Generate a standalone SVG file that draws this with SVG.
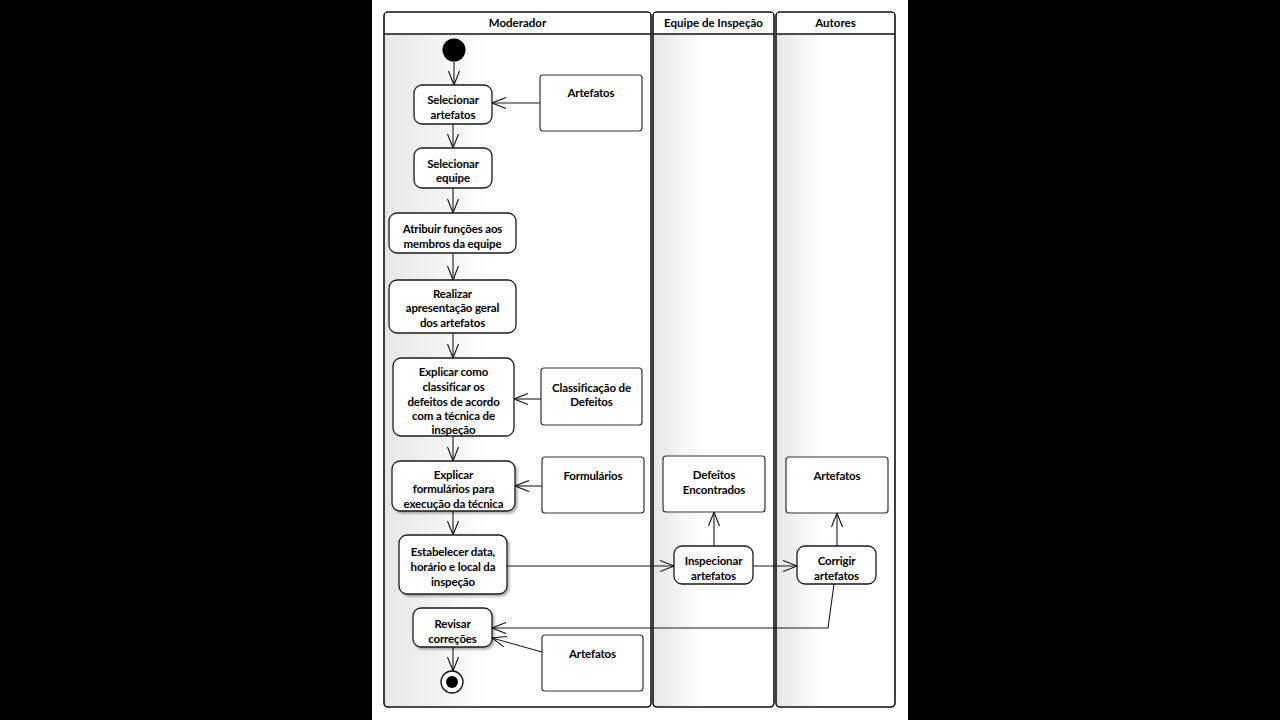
<svg xmlns="http://www.w3.org/2000/svg" width="1280" height="720" viewBox="0 0 1280 720">
<defs>
  <linearGradient id="laneGrad" x1="0" y1="0" x2="1" y2="0">
    <stop offset="0" stop-color="#e6e6e6"/>
    <stop offset="0.4" stop-color="#ffffff"/>
    <stop offset="1" stop-color="#ffffff"/>
  </linearGradient>
  <marker id="open" markerUnits="userSpaceOnUse" markerWidth="16" markerHeight="12" refX="14.5" refY="6" orient="auto">
    <path d="M0.5,0.5 L14.5,6 L0.5,11.5" fill="none" stroke="#111" stroke-width="1.1"/>
  </marker>
  <filter id="shadow" x="-10%" y="-10%" width="130%" height="130%">
    <feDropShadow dx="2" dy="2" stdDeviation="1.2" flood-color="#000" flood-opacity="0.3"/>
  </filter>
</defs>
<style>
  .lane { fill: url(#laneGrad); stroke: #111; stroke-width: 1.6; }
  .hdr { fill: none; stroke: #111; stroke-width: 1.4; }
  .act { fill: #ffffff; stroke: #1a1a1a; stroke-width: 1.3; }
  .obj { fill: #ffffff; stroke: #333; stroke-width: 1.2; }
  .t { font-family: Lato, "Liberation Sans", sans-serif; font-weight: bold; font-size: 11.5px; fill: #000; text-anchor: middle; letter-spacing: -0.15px; }
  .h { font-family: Lato, "Liberation Sans", sans-serif; font-weight: bold; font-size: 11.5px; fill: #000; text-anchor: middle; }
  .c { fill: none; stroke: #1a1a1a; stroke-width: 1.1; }
</style>
<rect x="0" y="0" width="1280" height="720" fill="#000"/>
<rect x="372" y="0" width="536" height="720" fill="#fff"/>

<g id="lanes">
  <g id="lane-moderador">
    <rect class="lane" x="384" y="12" width="267" height="695" rx="4"/>
    <rect x="385" y="13" width="265" height="21" fill="#fff"/>
    <line class="hdr" x1="384" y1="34" x2="651" y2="34"/>
    <text class="h" x="517.5" y="27">Moderador</text>
  </g>
  <g id="lane-equipe">
    <rect class="lane" x="653" y="12" width="121" height="695" rx="4"/>
    <rect x="654" y="13" width="119" height="21" fill="#fff"/>
    <line class="hdr" x1="653" y1="34" x2="774" y2="34"/>
    <text class="h" x="713.5" y="27">Equipe de Inspeção</text>
  </g>
  <g id="lane-autores">
    <rect class="lane" x="776" y="12" width="119" height="695" rx="4"/>
    <rect x="777" y="13" width="117" height="21" fill="#fff"/>
    <line class="hdr" x1="776" y1="34" x2="895" y2="34"/>
    <text class="h" x="835.5" y="27">Autores</text>
  </g>
</g>

<g id="connectors">
  <line class="c" x1="454" y1="62" x2="454" y2="85" marker-end="url(#open)"/>
  <line class="c" x1="540" y1="103" x2="492" y2="103" marker-end="url(#open)"/>
  <line class="c" x1="453" y1="124" x2="453" y2="148" marker-end="url(#open)"/>
  <line class="c" x1="453" y1="188" x2="453" y2="213" marker-end="url(#open)"/>
  <line class="c" x1="453" y1="253" x2="453" y2="280" marker-end="url(#open)"/>
  <line class="c" x1="453" y1="333" x2="453" y2="358" marker-end="url(#open)"/>
  <line class="c" x1="541" y1="399" x2="514" y2="399" marker-end="url(#open)"/>
  <line class="c" x1="453" y1="436" x2="453" y2="461" marker-end="url(#open)"/>
  <line class="c" x1="542" y1="486" x2="515" y2="486" marker-end="url(#open)"/>
  <line class="c" x1="453" y1="511" x2="453" y2="535" marker-end="url(#open)"/>
  <line class="c" x1="507" y1="566" x2="674" y2="566" marker-end="url(#open)"/>
  <line class="c" x1="714" y1="546" x2="714" y2="512" marker-end="url(#open)"/>
  <line class="c" x1="753" y1="566" x2="797" y2="566" marker-end="url(#open)"/>
  <line class="c" x1="837" y1="546" x2="837" y2="513" marker-end="url(#open)"/>
  <polyline class="c" points="834,584 828,628 492,628" marker-end="url(#open)"/>
  <line class="c" x1="542" y1="652" x2="492" y2="638" marker-end="url(#open)"/>
  <line class="c" x1="453" y1="647" x2="453" y2="671" marker-end="url(#open)"/>
</g>

<g id="start">
  <circle cx="454" cy="50" r="11.5" fill="#000"/>
</g>

<g id="selecionar-artefatos">
  <rect class="act" x="414" y="85" width="78" height="39" rx="8"/>
  <text class="t" x="453" y="104">Selecionar</text>
  <text class="t" x="453" y="119">artefatos</text>
</g>

<g id="obj-artefatos-1">
  <rect class="obj" x="540" y="75" width="102" height="56" rx="3"/>
  <text class="t" x="591" y="97">Artefatos</text>
</g>

<g id="selecionar-equipe">
  <rect class="act" x="414" y="148" width="78" height="40" rx="8"/>
  <text class="t" x="453" y="168">Selecionar</text>
  <text class="t" x="453" y="182">equipe</text>
</g>

<g id="atribuir-funcoes">
  <rect class="act" x="389" y="213" width="127" height="40" rx="8"/>
  <text class="t" x="452.5" y="233">Atribuir funções aos</text>
  <text class="t" x="452.5" y="248">membros da equipe</text>
</g>

<g id="realizar-apresentacao">
  <rect class="act" x="389" y="280" width="127" height="53" rx="8"/>
  <text class="t" x="452.5" y="298">Realizar</text>
  <text class="t" x="452.5" y="312">apresentação geral</text>
  <text class="t" x="452.5" y="327">dos artefatos</text>
</g>

<g id="explicar-classificar">
  <rect class="act" x="393" y="358" width="121" height="78" rx="8"/>
  <text class="t" x="453.5" y="376">Explicar como</text>
  <text class="t" x="453.5" y="391">classificar os</text>
  <text class="t" x="453.5" y="406">defeitos de acordo</text>
  <text class="t" x="453.5" y="420">com a técnica de</text>
  <text class="t" x="453.5" y="434">inspeção</text>
</g>

<g id="obj-classificacao">
  <rect class="obj" x="541" y="368" width="101" height="57" rx="3"/>
  <text class="t" x="591.5" y="392">Classificação de</text>
  <text class="t" x="591.5" y="406">Defeitos</text>
</g>

<g id="explicar-formularios">
  <rect class="act" x="392" y="461" width="123" height="50" rx="8" filter="url(#shadow)"/>
  <text class="t" x="453.5" y="479">Explicar</text>
  <text class="t" x="453.5" y="493">formulários para</text>
  <text class="t" x="453.5" y="508">execução da técnica</text>
</g>

<g id="obj-formularios">
  <rect class="obj" x="542" y="457" width="102" height="56" rx="3"/>
  <text class="t" x="593" y="480">Formulários</text>
</g>

<g id="estabelecer-data">
  <rect class="act" x="399" y="535" width="108" height="59" rx="8" filter="url(#shadow)"/>
  <text class="t" x="453" y="556">Estabelecer data,</text>
  <text class="t" x="453" y="571">horário e local da</text>
  <text class="t" x="453" y="586">inspeção</text>
</g>

<g id="inspecionar-artefatos">
  <rect class="act" x="674" y="546" width="79" height="38" rx="8"/>
  <text class="t" x="713.5" y="565">Inspecionar</text>
  <text class="t" x="713.5" y="580">artefatos</text>
</g>

<g id="obj-defeitos">
  <rect class="obj" x="663" y="456" width="102" height="56" rx="3"/>
  <text class="t" x="714" y="479">Defeitos</text>
  <text class="t" x="714" y="494">Encontrados</text>
</g>

<g id="corrigir-artefatos">
  <rect class="act" x="797" y="546" width="79" height="38" rx="8"/>
  <text class="t" x="836.5" y="565">Corrigir</text>
  <text class="t" x="836.5" y="580">artefatos</text>
</g>

<g id="obj-artefatos-2">
  <rect class="obj" x="786" y="457" width="102" height="56" rx="3"/>
  <text class="t" x="837" y="480">Artefatos</text>
</g>

<g id="revisar-correcoes">
  <rect class="act" x="413" y="608" width="79" height="39" rx="8" filter="url(#shadow)"/>
  <text class="t" x="452.5" y="628">Revisar</text>
  <text class="t" x="452.5" y="643">correções</text>
</g>

<g id="obj-artefatos-3">
  <rect class="obj" x="542" y="635" width="101" height="56" rx="3"/>
  <text class="t" x="592.5" y="658">Artefatos</text>
</g>

<g id="final">
  <circle cx="452" cy="682" r="11" fill="#fff" stroke="#111" stroke-width="1.3"/>
  <circle cx="452" cy="682" r="6" fill="#000"/>
</g>
</svg>
